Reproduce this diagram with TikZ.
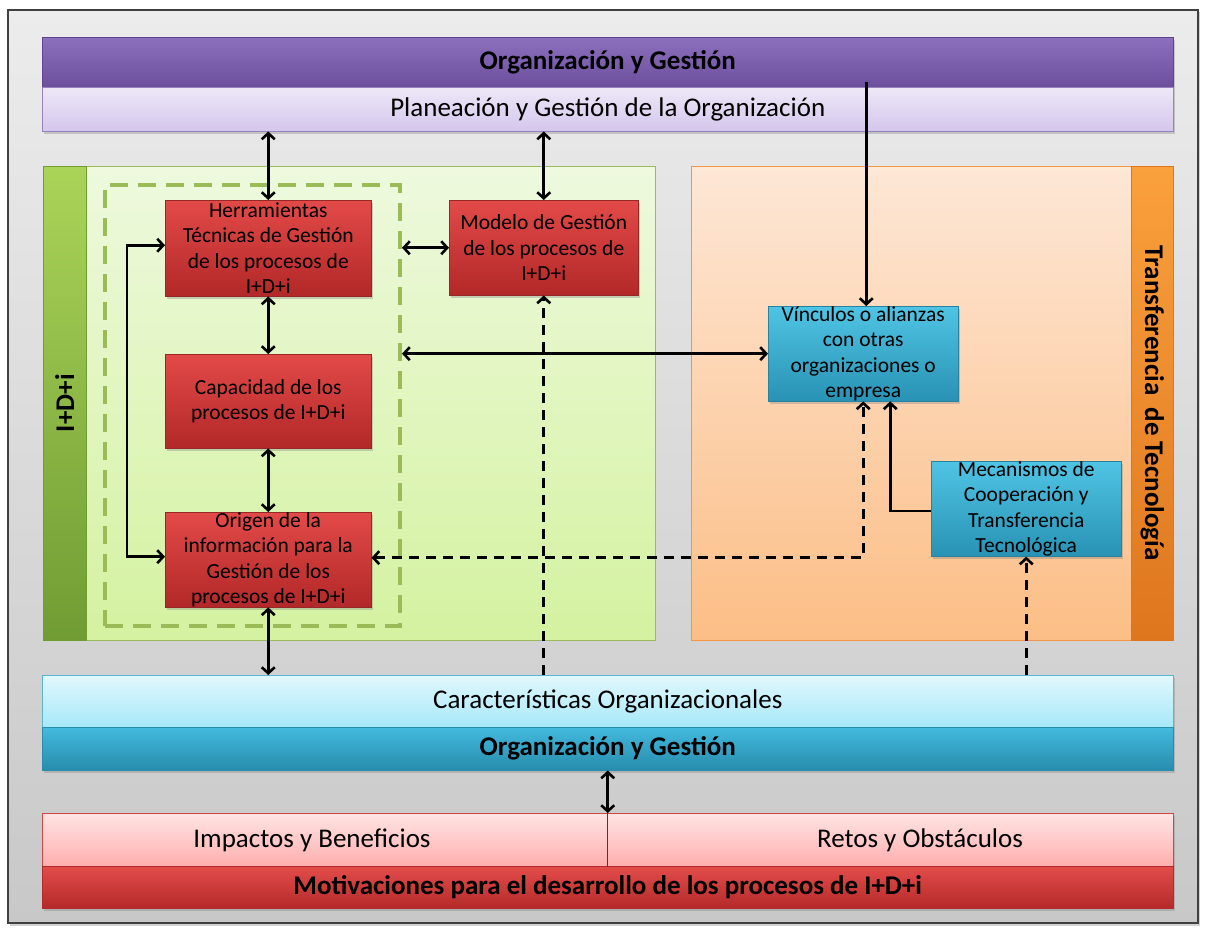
\documentclass[tikz,border=0pt]{standalone}
\usepackage{fontspec}
\setmainfont{Carlito}
\usetikzlibrary{arrows.meta,shadows,calc}

\definecolor{bgT}{RGB}{236,236,236}
\definecolor{bgB}{RGB}{200,200,200}
\definecolor{purT}{RGB}{140,112,190}
\definecolor{purB}{RGB}{108,78,156}
\definecolor{purE}{RGB}{96,70,140}
\definecolor{lavT}{RGB}{238,232,247}
\definecolor{lavB}{RGB}{212,198,236}
\definecolor{lavE}{RGB}{150,130,190}
\definecolor{grsT}{RGB}{170,212,88}
\definecolor{grsB}{RGB}{112,156,52}
\definecolor{grpT}{RGB}{238,249,222}
\definecolor{grpB}{RGB}{212,242,160}
\definecolor{grE}{RGB}{155,187,89}
\definecolor{orsT}{RGB}{250,160,60}
\definecolor{orsB}{RGB}{222,118,30}
\definecolor{orpT}{RGB}{253,231,214}
\definecolor{orpB}{RGB}{252,190,134}
\definecolor{orE}{RGB}{240,150,70}
\definecolor{redT}{RGB}{226,74,72}
\definecolor{redB}{RGB}{178,40,40}
\definecolor{redE}{RGB}{150,40,40}
\definecolor{bluT}{RGB}{80,196,228}
\definecolor{bluB}{RGB}{40,146,180}
\definecolor{bluE}{RGB}{40,130,160}
\definecolor{cyT}{RGB}{226,248,253}
\definecolor{cyB}{RGB}{166,232,248}
\definecolor{cyE}{RGB}{90,180,210}
\definecolor{dcyT}{RGB}{66,186,222}
\definecolor{dcyB}{RGB}{40,140,172}
\definecolor{pkT}{RGB}{255,228,228}
\definecolor{pkB}{RGB}{255,174,174}
\definecolor{pkE}{RGB}{210,70,70}
\definecolor{drT}{RGB}{226,76,74}
\definecolor{drB}{RGB}{180,42,42}

\begin{document}
\begin{tikzpicture}[x=1pt,y=-1pt,
  shade/.style={drop shadow={opacity=0.35,shadow xshift=1.5pt,shadow yshift=-2.5pt}},
  bandfont/.style={font=\fontsize{27}{31}\selectfont},
  bandbold/.style={font=\fontsize{27}{31}\selectfont\bfseries},
  band/.style={rectangle,inner sep=0pt,anchor=north west,minimum width=1131pt,bandfont,shade},
  strip/.style={rectangle,inner sep=0pt,anchor=north west,minimum width=43pt,
    minimum height=474pt},
  panel/.style={rectangle,inner sep=0pt,anchor=north west,minimum height=474pt,line width=0.8pt},
  card/.style={rectangle,inner sep=0pt,anchor=north west,align=center,
    font=\fontsize{21.5}{25.5}\selectfont,shade},
  redcard/.style={card,top color=redT,bottom color=redB,draw=redE,line width=0.5pt},
  bluecard/.style={card,top color=bluT,bottom color=bluB,draw=bluE,line width=0.5pt},
  tip/.style={},
  link/.style={line width=2.6pt,-{Straight Barb[length=6pt,width=13pt]}},
  twoway/.style={line width=2.6pt,{Straight Barb[length=6pt,width=13pt]}-{Straight Barb[length=6pt,width=13pt]}},
  dash link/.style={link,dash pattern=on 10pt off 7pt},
  dash twoway/.style={twoway,dash pattern=on 10pt off 7pt}]

\useasboundingbox (0,0) rectangle (1208,931);
\fill[white] (0,0) rectangle (1208,931);
\shade[top color=bgT,bottom color=bgB,draw=black!75,line width=1.2pt] (8,10) rectangle (1198,923);

% top bands
\node[band,top color=purT,bottom color=purB,draw=purE,line width=0.5pt,minimum height=50pt,bandbold]
  (org) at (42,37) {Organización y Gestión};
\node[band,top color=lavT,bottom color=lavB,draw=lavE,line width=0.5pt,minimum height=44pt]
  (plan) at (42,87) {Planeación y Gestión de la Organización};

% I+D+i area
\node[panel,minimum width=569pt,top color=grpT,bottom color=grpB,draw=grE] (idipanel) at (86,166) {};
\node[strip,top color=grsT,bottom color=grsB,draw=grsB] (idistrip) at (43,166) {};
\node[rotate=90,bandbold] (idilabel) at (idistrip.center) {I+D+i};
\node[rectangle,draw=grE,line width=4pt,dash pattern=on 18pt off 10pt,anchor=north west,
  minimum width=295pt,minimum height=441pt,inner sep=0pt] (group) at (103,183) {};

% technology transfer area
\node[panel,minimum width=440pt,top color=orpT,bottom color=orpB,draw=orE] (ttpanel) at (691,166) {};
\node[strip,minimum width=42pt,top color=orsT,bottom color=orsB,draw=orsB] (ttstrip) at (1131,166) {};
\node[rotate=-90,bandbold] (ttlabel) at (ttstrip.center) {Transferencia\ \ de Tecnología};

% red cards
\node[redcard,minimum width=206pt,minimum height=96pt] (herr) at (165,200)
  {Herramientas\\Técnicas de Gestión\\de los procesos de\\I+D+i};
\node[redcard,minimum width=189pt,minimum height=95pt] (modelo) at (449,200)
  {Modelo de Gestión\\de los procesos de\\I+D+i};
\node[redcard,minimum width=206pt,minimum height=94pt] (capac) at (165,354)
  {Capacidad de los\\procesos de I+D+i};
\node[redcard,minimum width=206pt,minimum height=94pt] (origen) at (165,512)
  {Origen de la\\información para la\\Gestión de los\\procesos de I+D+i};

% blue cards
\node[bluecard,minimum width=190pt,minimum height=94pt] (vinc) at (768,306)
  {Vínculos o alianzas\\con otras\\organizaciones o\\empresa};
\node[bluecard,minimum width=190pt,minimum height=95pt] (mecan) at (931,461)
  {Mecanismos de\\Cooperación y\\Transferencia\\Tecnológica};

% bottom bands
\node[band,top color=cyT,bottom color=cyB,draw=cyE,line width=0.5pt,minimum height=52pt]
  (carac) at (42,675) {Características Organizacionales};
\node[band,top color=dcyT,bottom color=dcyB,draw=dcyB,line width=0.5pt,minimum height=43pt,bandbold]
  (orgb) at (42,727) {Organización y Gestión};
\node[band,top color=pkT,bottom color=pkB,draw=pkE,line width=0.5pt,minimum height=53pt] (pink) at (42,813) {};
\node[band,top color=drT,bottom color=drB,draw=drB,line width=0.5pt,minimum height=42pt,bandbold]
  (motiv) at (42,866) {Motivaciones para el desarrollo de los procesos de I+D+i};
\draw[red!80!black,line width=0.8pt] (pink.north) -- (pink.south);
\node[bandfont] (impact) at (312,840) {Impactos y Beneficios};
\node[bandfont] (retos) at (920,840) {Retos y Obstáculos};

% connectors
\draw[twoway] (herr.north) -- (herr.north |- plan.south);
\draw[twoway] (modelo.north) -- (modelo.north |- plan.south);
\draw[twoway] (group.east |- modelo.west) -- (modelo.west);
\draw[twoway] (herr.south) -- (capac.north);
\draw[twoway] (capac.south) -- (origen.north);
\draw[twoway] (origen.south) -- (origen.south |- carac.north);
\draw[twoway] ($(herr.west)+(0,-3)$) -- ++(-38,0) |- ($(origen.west)+(0,-3)$);
\draw[twoway] (group.east |- vinc.west) -- (vinc.west);
\coordinate (orgdrop) at ($(vinc.north |- org.south)+(3,-5)$);
\draw[link] (orgdrop) -- (orgdrop |- vinc.north);
\draw[dash link] (modelo.south |- carac.north) -- (modelo.south);
\draw[dash link] (mecan.south |- carac.north) -- (mecan.south);
\draw[dash twoway] ($(origen.east)+(0,-2)$) -| (vinc.south);
\draw[link] ($(mecan.west)+(0,2)$) -| ($(vinc.south)+(27,0)$);
\draw[twoway] (orgb.south) -- (pink.north);
\end{tikzpicture}
\end{document}
